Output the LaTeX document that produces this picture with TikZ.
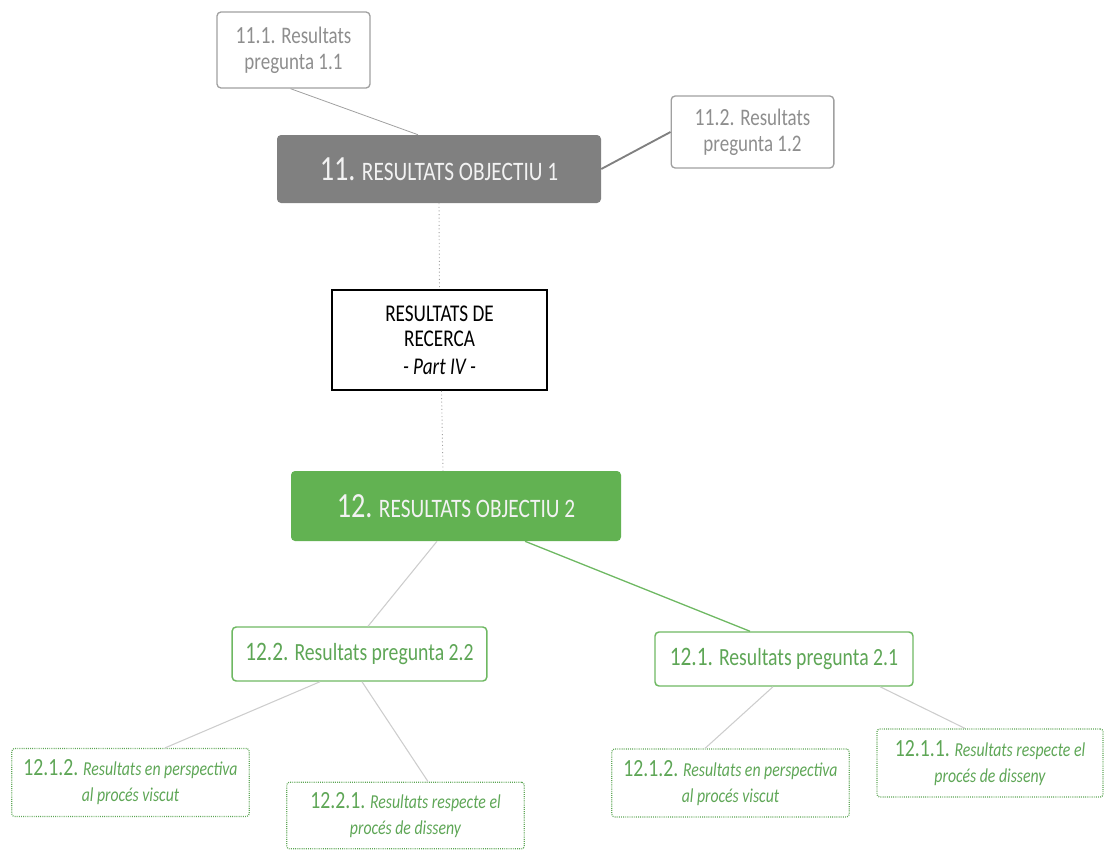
\documentclass[tikz,border=0pt]{standalone}
\usepackage{fontspec}
\setmainfont{Carlito}[FakeStretch=0.8]
\usepackage{tikz}
\usetikzlibrary{calc,positioning}
\definecolor{boxgrey}{RGB}{128,128,128}
\definecolor{txtgrey}{RGB}{142,142,142}
\definecolor{edgegrey}{RGB}{160,160,160}
\definecolor{linegrey}{RGB}{205,205,205}
\definecolor{objgreen}{RGB}{98,178,82}
\definecolor{txtgreen}{RGB}{94,166,86}
\definecolor{edgegreen}{RGB}{110,184,98}
\newcommand{\bignum}[1]{{\fontsize{26.5}{28}\selectfont #1}}
\newcommand{\midnum}[1]{{\fontsize{20}{22}\selectfont #1}}
\newcommand{\lownum}[1]{{\fontsize{18.5}{20}\selectfont #1}}
\tikzstyle{mainobj} = [rectangle, rounded corners=3pt, inner sep=0pt, minimum width=243pt, minimum height=51pt, text=white!95!black, font=\fontsize{20}{22}\selectfont]
\tikzstyle{greyq} = [rectangle, rounded corners=3pt, draw=edgegrey, line width=1pt, inner sep=0pt, text=txtgrey, align=center, font=\fontsize{17.8}{19.5}\selectfont]
\tikzstyle{greenq} = [rectangle, rounded corners=3pt, draw=edgegreen, line width=1.1pt, inner sep=0pt, minimum height=40.5pt, text=txtgreen, font=\fontsize{18.5}{20}\selectfont]
\tikzstyle{subq} = [rectangle, rounded corners=2pt, draw=txtgreen, line width=0.9pt, dash pattern=on 0.7pt off 0.9pt, inner sep=0pt, minimum height=51pt, text=txtgreen, align=center, font=\fontsize{14.8}{19.5}\selectfont\itshape]
\tikzstyle{link} = [draw=linegrey, line width=0.8pt]

\begin{document}
\begin{tikzpicture}[x=0.75pt, y=-0.75pt]
	\useasboundingbox (0,0) rectangle (1107,850);
	% objectiu 1 i les seves preguntes
	\node[mainobj, fill=boxgrey] (obj1) at (439,169) {\bignum{11.} RESULTATS OBJECTIU 1};
	\node[greyq, minimum width=114.75pt, minimum height=57pt] (q11) at (293.5,50) {\lownum{11.1.} Resultats\\pregunta 1.1};
	\node[greyq, minimum width=122pt, minimum height=54pt] (q12) at (752.5,132) {\lownum{11.2.} Resultats\\pregunta 1.2};
	% part central
	\node[rectangle, draw=black, line width=1.4pt, minimum width=161pt, minimum height=75pt, inner sep=0pt, align=center, font=\fontsize{18}{19}\selectfont] (part) at (439.5,340) {RESULTATS DE\\RECERCA\\[2pt] \textit{- Part IV -}};
	% objectiu 2
	\node[mainobj, fill=objgreen, minimum width=247.5pt, minimum height=52.5pt] (obj2) at (456,506) {\bignum{12.} RESULTATS OBJECTIU 2};
	\node[greenq, minimum width=191pt] (q22) at (359.5,654) {\midnum{12.2.} Resultats pregunta 2.2};
	\node[greenq, minimum width=193.5pt] (q21) at (784,659) {\midnum{12.1.} Resultats pregunta 2.1};
	\node[subq, minimum width=178pt] (r212a) at (130.5,782.5) {{\upshape\lownum{12.1.2.}} Resultats en perspectiva\\al procés viscut};
	\node[subq, minimum width=178pt, minimum height=50pt] (r221) at (405.5,815.5) {{\upshape\lownum{12.2.1.}} Resultats respecte el\\procés de disseny};
	\node[subq, minimum width=178pt] (r212b) at (730.5,783) {{\upshape\lownum{12.1.2.}} Resultats en perspectiva\\al procés viscut};
	\node[subq, minimum width=169.5pt] (r211) at (990,763) {{\upshape\lownum{12.1.1.}} Resultats respecte el\\procés de disseny};

	% connexions
	\draw[draw=edgegrey, line width=0.6pt] ($(q11.south)+(-3,0)$) -- ($(obj1.north)+(-21,0)$);
	\draw[draw=boxgrey, line width=1.4pt] (obj1.east) -- (q12.west);
	\draw[draw=edgegrey, line width=0.7pt, dotted] (obj1.south) -- (part.north);
	\draw[draw=edgegrey, line width=0.7pt, dotted] ($(part.south)+(2,0)$) -- ($(obj2.north)+(-13,0)$);
	\draw[link] ($(obj2.south)+(-19,0)$) -- ($(q22.north)+(8.5,0)$);
	\draw[draw=edgegreen, line width=1pt] ($(obj2.south)+(69,0)$) -- ($(q21.north)+(-34,0)$);
	\draw[link] ($(q22.south)+(-39.5,0)$) -- ($(r212a.north)+(34.5,0)$);
	\draw[link] ($(q22.south)+(2.5,0)$) -- ($(r221.north)+(22.5,0)$);
	\draw[link] ($(q21.south)+(-11,0)$) -- ($(r212b.north)+(-25.5,0)$);
	\draw[link] ($(q21.south)+(96,0)$) -- ($(r211.north)+(-25,0)$);
\end{tikzpicture}
\end{document}
